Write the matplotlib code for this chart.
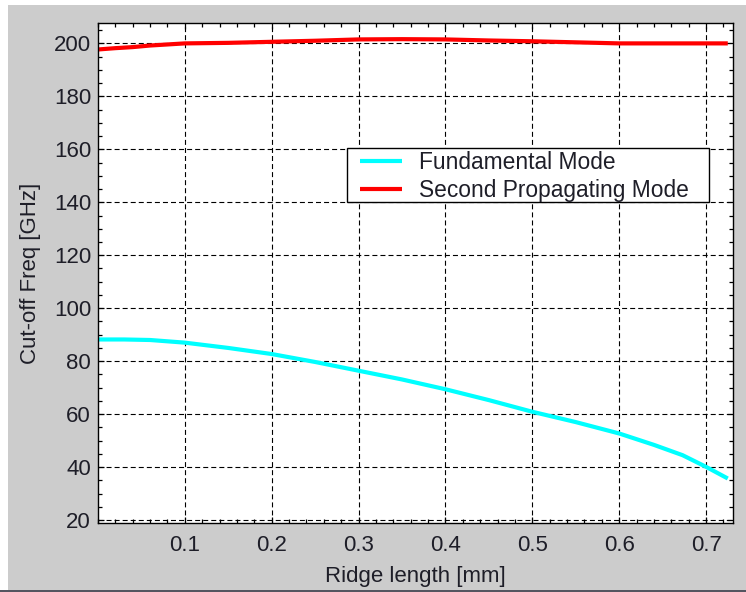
import matplotlib
matplotlib.use("Agg")
import matplotlib.pyplot as plt
from matplotlib.patches import Rectangle
from matplotlib.ticker import MultipleLocator

# Cut-off frequency versus ridge length
fund_x = [0.0, 0.03, 0.06, 0.1, 0.15, 0.2, 0.25, 0.3, 0.35, 0.4, 0.45,
          0.5, 0.55, 0.6, 0.64, 0.673, 0.7, 0.725]
fund_y = [88.2, 88.2, 88.0, 87.0, 85.0, 82.7, 79.7, 76.4, 73.1, 69.4, 65.3,
          60.9, 57.0, 52.7, 48.4, 44.5, 40.1, 35.7]

second_x = [0.0, 0.02, 0.04, 0.06, 0.08, 0.1, 0.15, 0.2, 0.25, 0.3, 0.35,
            0.4, 0.45, 0.5, 0.55, 0.6, 0.65, 0.7, 0.725]
second_y = [197.7, 198.2, 198.6, 199.2, 199.6, 200.0, 200.2, 200.6, 201.0,
            201.5, 201.6, 201.5, 201.1, 200.8, 200.4, 200.0, 200.0, 200.0, 200.0]

x_ticks = [0.1, 0.2, 0.3, 0.4, 0.5, 0.6, 0.7]
y_ticks = [20, 40, 60, 80, 100, 120, 140, 160, 180, 200]

BG = "#cccccc"
TXT = "#1e1e28"

plt.rcParams.update({
    "font.family": ["Liberation Sans", "DejaVu Sans"],
    "font.size": 16,
    "lines.scale_dashes": False,
})

fig = plt.figure(figsize=(7.46, 5.92), dpi=100, facecolor=BG)

# window frame: thin white margins on top/left, dark edge at the bottom
fig.patches.append(Rectangle((0, 0), 8 / 746, 1, transform=fig.transFigure,
                             facecolor="white", edgecolor="none", zorder=-1))
fig.patches.append(Rectangle((0, 1 - 5 / 592), 1, 5 / 592, transform=fig.transFigure,
                             facecolor="white", edgecolor="none", zorder=-1))
fig.patches.append(Rectangle((0, 0), 1, 2 / 592, transform=fig.transFigure,
                             facecolor="#555560", edgecolor="none", zorder=-1))

ax = fig.add_axes([98 / 746, 69 / 592, 635 / 746, 500 / 592])
ax.set_facecolor("white")

ax.plot(fund_x, fund_y, color="#00ffff", linewidth=3.0, label="Fundamental Mode",
        solid_capstyle="butt")
ax.plot(second_x, second_y, color="#ff0000", linewidth=3.0,
        label="Second Propagating Mode", solid_capstyle="butt")

ax.set_xlim(0, 0.731)
ax.set_ylim(18.9, 207.7)
ax.set_xticks(x_ticks)
ax.set_yticks(y_ticks)
ax.xaxis.set_minor_locator(MultipleLocator(0.02))
ax.yaxis.set_minor_locator(MultipleLocator(5))
ax.tick_params(which="both", direction="in", top=True, right=True,
               colors="black", labelcolor=TXT, width=0.9)
ax.tick_params(which="major", length=4.0, pad=5)
ax.tick_params(axis="x", which="major", pad=8.5)
ax.tick_params(which="minor", length=2.8)

ax.grid(True, which="major", color="black", linestyle=(0, (3.6, 2.2)),
        linewidth=0.8)
for s in ax.spines.values():
    s.set_linewidth(1.0)
    s.set_color("black")

ax.set_xlabel("Ridge length [mm]", color=TXT, labelpad=7)
ax.set_ylabel("Cut-off Freq [GHz]", color=TXT, labelpad=9)

# legend box drawn separately so its padding can differ per side
ax.add_patch(Rectangle((0.392, 0.642), 0.570, 0.108, transform=ax.transAxes,
                       facecolor="white", edgecolor="black", linewidth=1.0,
                       zorder=4))
leg = ax.legend(loc="center left", bbox_to_anchor=(0.4126, 0.6926),
                borderaxespad=0, frameon=False, fontsize=16.4,
                handlelength=1.85, handletextpad=0.72, borderpad=0,
                labelspacing=0.2)
leg.set_zorder(5)
for t in leg.get_texts():
    t.set_color(TXT)

fig.savefig("out.png", dpi=100, facecolor=BG)
